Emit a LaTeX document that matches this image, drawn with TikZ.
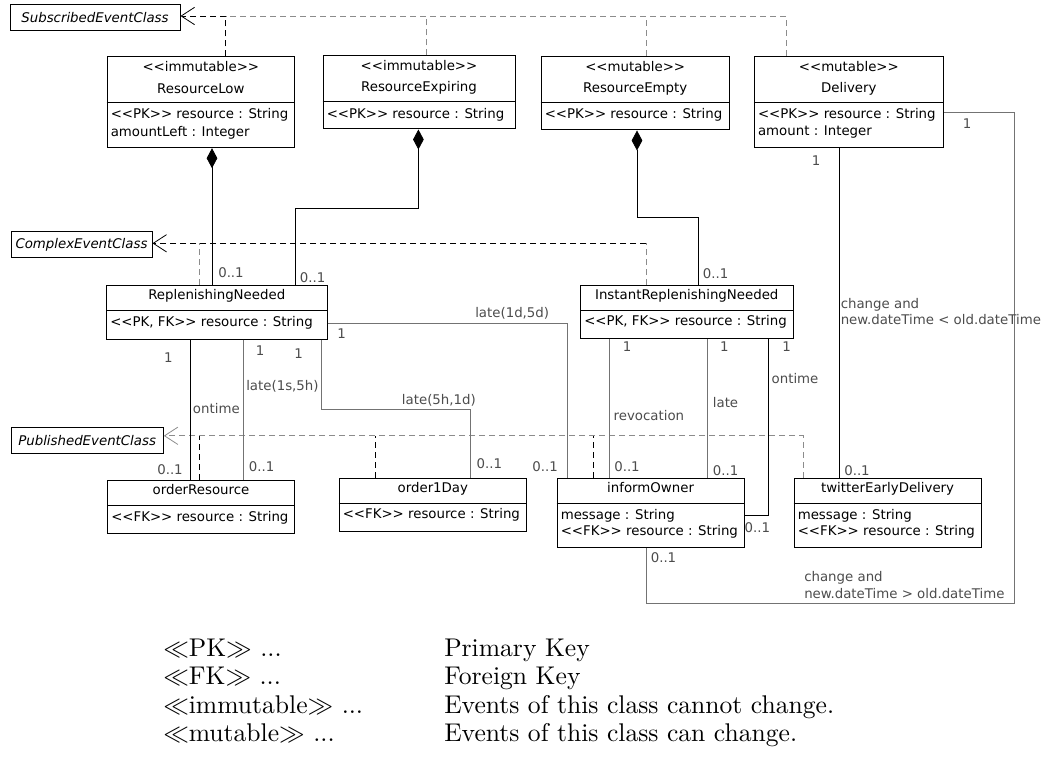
\documentclass[tikz,border=0pt]{standalone}
\usepackage{fontspec}
\setsansfont{DejaVu Sans}[Ligatures=TeXOff]
\usetikzlibrary{arrows.meta,fit}

\newcommand{\clsfont}{\fontsize{10}{12}\selectfont\sffamily}
\newcommand{\keytext}[1]{\scalebox{1.92}{\fontsize{10}{12}\selectfont\rmfamily #1}}

\tikzset{
  cls/.style={draw, line width=0.75pt, inner sep=0pt},
  ctext/.style={inner sep=0pt, font=\clsfont, text height=7.3pt, text depth=0pt},
  atext/.style={ctext, anchor=west, xshift=3pt},
  abstr/.style={ctext, font=\clsfont\itshape},
  mult/.style={ctext, text=black!70},
  lbl/.style={mult, anchor=west},
  assoc/.style={line width=0.6pt},
  assocg/.style={line width=0.6pt, draw=black!55},
  comp/.style={assoc, {Diamond[length=15pt,width=8pt]}-},
  dep/.style={line width=0.6pt, dash pattern=on 4.5pt off 3pt},
  depg/.style={dep, draw=black!45},
  real/.style={-{Straight Barb[length=10pt,width=13pt]}},
  key/.style={inner sep=0pt, anchor=base west},
}

\begin{document}
\begin{tikzpicture}[x=0.75pt,y=0.75pt,yscale=-1,xscale=1]
\useasboundingbox (0,0) rectangle (1047,774);

%Shape: Rectangle [abstract classes]
\node [cls, fit={(10,5) (180,30.4)}] (sub) {};
\node [cls, fit={(11,231) (152,257.2)}] (cplx) {};
\node [cls, fit={(11,427.6) (163.3,453.3)}] (pub) {};
% Text Node
\node [abstr] (sub-nm) at (sub) {SubscribedEventClass};
\node [abstr] (cplx-nm) at (cplx) {ComplexEventClass};
\node [abstr] (pub-nm) at (pub) {PublishedEventClass};

%Shape: Rectangle [ResourceLow]
\node [cls, fit={(107,57) (294.7,147.7)}] (rlow) {};
\draw (rlow.west |- 0,102.4) -- (rlow.east |- 0,102.4);
% Text Node
\node [ctext] (rlow-st) at (rlow |- 0,67) {<<immutable>>};
\node [ctext] (rlow-nm) at (rlow |- 0,88.5) {ResourceLow};
\node [atext] (rlow-a1) at (rlow.west |- 0,114) {<<PK>> resource : String};
\node [atext] (rlow-a2) at (rlow.west |- 0,132) {amountLeft : Integer};

%Shape: Rectangle [ResourceExpiring]
\node [cls, fit={(323,56) (515,129)}] (rexp) {};
\draw (rexp.west |- 0,101.4) -- (rexp.east |- 0,101.4);
% Text Node
\node [ctext] (rexp-st) at (rexp |- 0,66) {<<immutable>>};
\node [ctext] (rexp-nm) at (rexp |- 0,86.5) {ResourceExpiring};
\node [atext] (rexp-a1) at (rexp.west |- 0,113.5) {<<PK>> resource : String};

%Shape: Rectangle [ResourceEmpty]
\node [cls, fit={(541,56.5) (729.4,130)}] (remp) {};
\draw (remp.west |- 0,101.8) -- (remp.east |- 0,101.8);
% Text Node
\node [ctext] (remp-st) at (remp |- 0,67) {<<mutable>>};
\node [ctext] (remp-nm) at (remp |- 0,88) {ResourceEmpty};
\node [atext] (remp-a1) at (remp.west |- 0,113.6) {<<PK>> resource : String};

%Shape: Rectangle [Delivery]
\node [cls, fit={(754.3,56.5) (943.4,147.3)}] (del) {};
\draw (del.west |- 0,101.8) -- (del.east |- 0,101.8);
% Text Node
\node [ctext] (del-st) at (del |- 0,67) {<<mutable>>};
\node [ctext] (del-nm) at (del |- 0,88) {Delivery};
\node [atext] (del-a1) at (del.west |- 0,113.6) {<<PK>> resource : String};
\node [atext] (del-a2) at (del.west |- 0,131) {amount : Integer};

%Shape: Rectangle [ReplenishingNeeded]
\node [cls, fit={(106.5,285) (327,339)}] (rn) {};
\draw (rn.west |- 0,310.5) -- (rn.east |- 0,310.5);
% Text Node
\node [ctext] (rn-nm) at (rn |- 0,295) {ReplenishingNeeded};
\node [atext] (rn-a1) at (rn.west |- 0,321.4) {<<PK, FK>> resource : String};

%Shape: Rectangle [InstantReplenishingNeeded]
\node [cls, fit={(580.5,285.5) (793,338.3)}] (irn) {};
\draw (irn.west |- 0,310) -- (irn.east |- 0,310);
% Text Node
\node [ctext] (irn-nm) at (irn |- 0,294.6) {InstantReplenishingNeeded};
\node [atext] (irn-a1) at (irn.west |- 0,320.8) {<<PK, FK>> resource : String};

%Shape: Rectangle [orderResource]
\node [cls, fit={(107.5,480) (294.5,533.7)}] (ordr) {};
\draw (ordr.west |- 0,505.7) -- (ordr.east |- 0,505.7);
% Text Node
\node [ctext] (ordr-nm) at (ordr |- 0,489.8) {orderResource};
\node [atext] (ordr-a1) at (ordr.west |- 0,516.8) {<<FK>> resource : String};

%Shape: Rectangle [order1Day]
\node [cls, fit={(339,478) (526.7,531)}] (ord1) {};
\draw (ord1.west |- 0,503.6) -- (ord1.east |- 0,503.6);
% Text Node
\node [ctext] (ord1-nm) at (ord1 |- 0,487.8) {order1Day};
\node [atext] (ord1-a1) at (ord1.west |- 0,514.1) {<<FK>> resource : String};

%Shape: Rectangle [informOwner]
\node [cls, fit={(557,478) (744.2,547.8)}] (inf) {};
\draw (inf.west |- 0,503.1) -- (inf.east |- 0,503.1);
% Text Node
\node [ctext] (inf-nm) at (inf |- 0,487.3) {informOwner};
\node [atext] (inf-a1) at (inf.west |- 0,514.2) {message : String};
\node [atext] (inf-a2) at (inf.west |- 0,530.3) {<<FK>> resource : String};

%Shape: Rectangle [twitterEarlyDelivery]
\node [cls, fit={(794,478) (981.2,547.8)}] (tw) {};
\draw (tw.west |- 0,503.1) -- (tw.east |- 0,503.1);
% Text Node
\node [ctext] (tw-nm) at (tw |- 0,487.3) {twitterEarlyDelivery};
\node [atext] (tw-a1) at (tw.west |- 0,514.2) {message : String};
\node [atext] (tw-a2) at (tw.west |- 0,530.3) {<<FK>> resource : String};

%Dashed Lines [realisations]
\coordinate (subJ) at (225.5,16);
\coordinate (cplxJ) at (646,243.3);
\coordinate (pubJ) at (803.3,435.8);
\draw [depg] (del.north -| 786,0) |- (subJ);
\draw [depg] (rexp.north -| 426.6,0) -- (subJ -| 426.6,0);
\draw [depg] (remp.north -| 646,0) -- (subJ -| 646,0);
\draw [dep, real] (rlow.north -| subJ) -- (subJ) -- (sub.east |- subJ);
\draw [depg] (irn.north -| cplxJ) -- (cplxJ);
\draw [depg] (rn.north -| 199,0) -- (cplxJ -| 199,0);
\draw [dep, real] (cplxJ) -- (cplx.east |- cplxJ);
\draw [depg, real] (tw.north -| pubJ) -- (pubJ) -- (pub.east |- pubJ);
\draw [dep] (ordr.north -| 199.3,0) -- (pubJ -| 199.3,0);
\draw [dep] (ord1.north -| 375,0) -- (pubJ -| 375,0);
\draw [dep] (inf.north -| 593.3,0) -- (pubJ -| 593.3,0);

%Straight Lines [compositions]
\draw [comp] (rlow.south -| 212,0) -- (rn.north -| 212,0);
\draw [comp] (rexp.south -| 418.4,0) -- ++(0,79.3) -| (rn.north -| 295.3,0);
\draw [comp] (remp.south -| 637,0) -- ++(0,87.3) -| (irn.north -| 698.3,0);

%Straight Lines [associations]
\draw [assoc] (rn.south -| 190.3,0) -- (ordr.north -| 190.3,0);
\draw [assocg] (rn.south -| 243,0) -- (ordr.north -| 243,0);
\draw [assocg] (rn.south -| 321.7,0) -- ++(0,70.3) -| (ord1.north -| 470.7,0);
\draw [assocg] (rn.east |- 0,323.5) -| (inf.north -| 567,0);
\draw [assocg] (irn.south -| 609.7,0) -- (inf.north -| 609.7,0);
\draw [assocg] (irn.south -| 707.2,0) -- (inf.north -| 707.2,0);
\draw [assoc] (irn.south -| 768.7,0) |- (inf.east |- 0,515.2);
\draw [assoc] (del.south -| 839,0) -- (tw.north -| 839,0);
\draw [assocg] (del.east |- 0,112.5) -- ++(70.1,0) -- ++(0,490.8) -| (inf.south -| 646,0);

% Text Node [multiplicities and labels]
\node [mult] (m-rl) at (231,273) {0..1};
\node [mult] (m-re) at (312.7,277.5) {0..1};
\node [mult] (m-rx) at (715.7,273.3) {0..1};
\node [mult] (m-rn1) at (341.5,333.5) {1};
\node [mult] (m-rn2) at (168.3,358) {1};
\node [mult] (m-rn3) at (260,350.5) {1};
\node [mult] (m-rn4) at (298.5,354) {1};
\node [mult] (m-irn1) at (627,347) {1};
\node [mult] (m-irn2) at (724.4,347) {1};
\node [mult] (m-irn3) at (786.6,347) {1};
\node [mult] (m-del1) at (816,160.7) {1};
\node [mult] (m-del2) at (967,123.5) {1};
\node [mult] (m-or1) at (170,469.3) {0..1};
\node [mult] (m-or2) at (261.7,466.7) {0..1};
\node [mult] (m-o1d) at (489.3,463.3) {0..1};
\node [mult] (m-in1) at (545.2,466.5) {0..1};
\node [mult] (m-in2) at (627,467) {0..1};
\node [mult] (m-in3) at (725.7,470.5) {0..1};
\node [mult] (m-in4) at (757.3,527.6) {0..1};
\node [mult] (m-in5) at (663.5,557.2) {0..1};
\node [mult] (m-tw) at (857,470.5) {0..1};
\node [lbl] (l-1d5d) at (475,312.3) {late(1d,5d)};
\node [lbl] (l-1s5h) at (246,386) {late(1s,5h)};
\node [lbl] (l-ont1) at (192.7,409) {ontime};
\node [lbl] (l-5h1d) at (401.7,400) {late(5h,1d)};
\node [lbl] (l-ont2) at (771.4,379) {ontime};
\node [lbl] (l-late) at (712.6,402.5) {late};
\node [lbl] (l-rev) at (613.4,415.5) {revocation};
\node [lbl] (l-ch1) at (840.5,303.3) {change and};
\node [lbl] (l-ch2) at (840.5,319.3) {new.dateTime < old.dateTime};
\node [lbl] (l-ch3) at (804,576.4) {change and};
\node [lbl] (l-ch4) at (804,593.2) {new.dateTime > old.dateTime};

% Text Node [legend]
\node [key] (k-pk) at (163,656) {\keytext{$\ll$PK$\gg$ ...}};
\node [key] (k-fk) at (163,684.5) {\keytext{$\ll$FK$\gg$ ...}};
\node [key] (k-im) at (163,713) {\keytext{$\ll$immutable$\gg$ ...}};
\node [key] (k-mu) at (163,741.5) {\keytext{$\ll$mutable$\gg$ ...}};
\node [key] (d-pk) at (444,656) {\keytext{Primary Key}};
\node [key] (d-fk) at (444,684.5) {\keytext{Foreign Key}};
\node [key] (d-im) at (444,713) {\keytext{Events of this class cannot change.}};
\node [key] (d-mu) at (444,741.5) {\keytext{Events of this class can change.}};
\end{tikzpicture}
\end{document}
